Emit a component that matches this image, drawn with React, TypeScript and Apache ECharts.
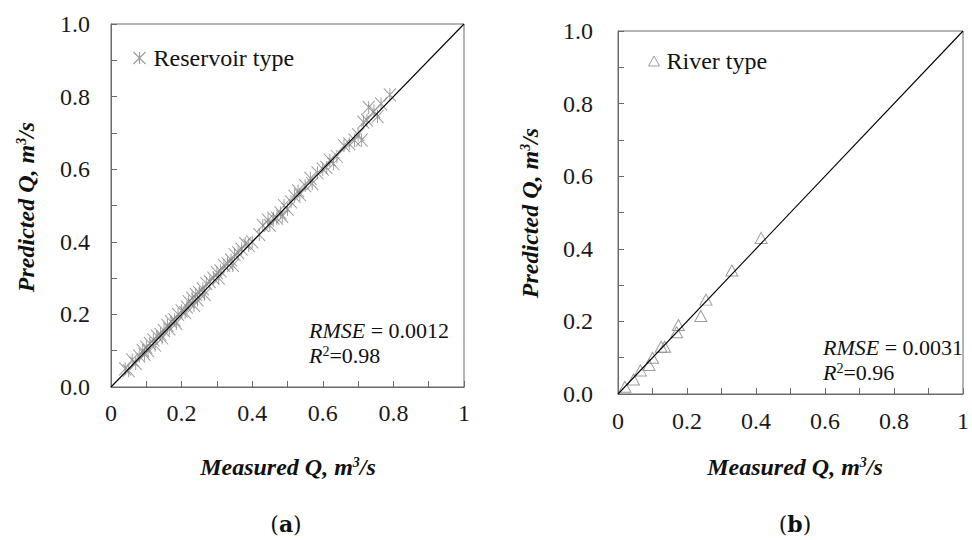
import React, { useEffect, useRef } from "react";
import * as echarts from "echarts";

// Reservoir type: measured vs predicted Q (m3/s)
const reservoirMeasured = [
  0.04, 0.05, 0.06, 0.07, 0.08, 0.09, 0.095, 0.1, 0.105, 0.11, 0.12, 0.125, 0.13, 0.14, 0.145, 0.15,
  0.16, 0.165, 0.17, 0.18, 0.185, 0.19, 0.2, 0.21, 0.215, 0.22, 0.23, 0.235, 0.24, 0.245, 0.25, 0.26,
  0.265, 0.27, 0.28, 0.29, 0.3, 0.305, 0.31, 0.32, 0.33, 0.34, 0.345, 0.35, 0.36, 0.37, 0.38, 0.39,
  0.4, 0.42, 0.43, 0.445, 0.45, 0.46, 0.47, 0.48, 0.485, 0.49, 0.5, 0.51, 0.52, 0.53, 0.535, 0.55,
  0.565, 0.57, 0.585, 0.6, 0.61, 0.62, 0.63, 0.64, 0.66, 0.675, 0.69, 0.7, 0.71, 0.715, 0.725, 0.73,
  0.745, 0.755, 0.765, 0.79,
];
const reservoirPredicted = [
  0.05, 0.045, 0.075, 0.065, 0.085, 0.1, 0.09, 0.11, 0.1, 0.12, 0.13, 0.115, 0.14, 0.145, 0.135, 0.155,
  0.17, 0.16, 0.18, 0.185, 0.175, 0.2, 0.21, 0.205, 0.22, 0.235, 0.245, 0.225, 0.255, 0.24, 0.26, 0.27,
  0.255, 0.285, 0.29, 0.3, 0.315, 0.3, 0.32, 0.335, 0.34, 0.35, 0.335, 0.365, 0.37, 0.38, 0.395, 0.39,
  0.4, 0.42, 0.445, 0.46, 0.445, 0.465, 0.465, 0.48, 0.47, 0.5, 0.49, 0.51, 0.525, 0.54, 0.53, 0.555,
  0.575, 0.56, 0.59, 0.6, 0.605, 0.625, 0.615, 0.635, 0.665, 0.67, 0.68, 0.695, 0.68, 0.73, 0.735, 0.77,
  0.76, 0.745, 0.78, 0.805,
];

// River type
const riverMeasured = [0.02, 0.045, 0.065, 0.09, 0.1, 0.125, 0.135, 0.17, 0.175, 0.24, 0.255, 0.33, 0.415];
const riverPredicted = [0.02, 0.04, 0.065, 0.08, 0.1, 0.13, 0.13, 0.17, 0.19, 0.215, 0.26, 0.34, 0.43];

const identityLine = [
  [0, 0],
  [1, 1],
];

const seriesNames = ["Reservoir type", "River type"];
const statsA = { rmse: "0.0012", r2: "0.98" };
const statsB = { rmse: "0.0031", r2: "0.96" };

const FONT = "'Liberation Serif', 'Times New Roman', serif";
const FRAME = "#6a6a6a";
const MARK = "#858585";
const STAR = "path://M0,0L10,10M0,10L10,0M5,0L5,10";

function xAxisCfg(gridIndex: number, margin: number) {
  return {
    type: "value",
    gridIndex,
    min: 0,
    max: 1,
    interval: 0.2,
    axisLine: { show: true, lineStyle: { color: FRAME, width: 1 } },
    axisTick: { show: true, inside: true, length: 6, lineStyle: { color: FRAME } },
    minorTick: { show: true, splitNumber: 2, length: 6, lineStyle: { color: FRAME } },
    splitLine: { show: false },
    axisLabel: {
      margin,
      fontFamily: FONT,
      fontSize: 24,
      color: "#1a1a1a",
      formatter: (v: number) => (v === 0 ? "0" : v === 1 ? "1" : v.toFixed(1)),
    },
  };
}

function yAxisCfg(gridIndex: number, margin: number) {
  return {
    type: "value",
    gridIndex,
    min: 0,
    max: 1,
    interval: 0.2,
    axisLine: { show: true, lineStyle: { color: FRAME, width: 1 } },
    axisTick: { show: true, inside: true, length: 6, lineStyle: { color: FRAME } },
    minorTick: { show: true, splitNumber: 2, length: 6, lineStyle: { color: FRAME } },
    splitLine: { show: false },
    axisLabel: {
      margin,
      fontFamily: FONT,
      fontSize: 24,
      color: "#1a1a1a",
      formatter: (v: number) => v.toFixed(1),
    },
  };
}

const nameRich = {
  b: { fontFamily: FONT, fontSize: 24, fontWeight: "bold", fontStyle: "italic", fill: "#111" },
  s: {
    fontFamily: FONT,
    fontSize: 14,
    fontWeight: "bold",
    fontStyle: "italic",
    fill: "#111",
    verticalAlign: "top",
  },
};

const statRich = {
  i: { fontFamily: FONT, fontSize: 22, fontStyle: "italic", fill: "#111" },
  n: { fontFamily: FONT, fontSize: 22, fill: "#111" },
  s: { fontFamily: FONT, fontSize: 14, fill: "#111", verticalAlign: "top" },
};

function axisNameText(x: number, y: number, rotate: boolean) {
  return {
    type: "text",
    x,
    y,
    rotation: rotate ? Math.PI / 2 : 0,
    style: {
      text: "{b|" + (rotate ? "Predicted" : "Measured") + " Q, m}{s|3}{b|/s}",
      rich: nameRich,
      align: "center",
      verticalAlign: "middle",
    },
  };
}

function statText(x: number, y: number, s: { rmse: string; r2: string }) {
  return [
    {
      type: "text",
      x,
      y,
      style: {
        text: "{i|RMSE}{n| = " + s.rmse + "}",
        rich: statRich,
        align: "left",
        verticalAlign: "middle",
      },
    },
    {
      type: "text",
      x,
      y: y + 25,
      style: {
        text: "{i|R}{s|2}{n|=" + s.r2 + "}",
        rich: statRich,
        align: "left",
        verticalAlign: "middle",
      },
    },
  ];
}

function panelLabel(x: number, y: number, letter: string) {
  return {
    type: "text",
    x,
    y,
    style: {
      text: "{n|(}{b|" + letter + "}{n|)}",
      rich: {
        n: { fontFamily: "'DejaVu Serif', serif", fontSize: 22, fill: "#111" },
        b: { fontFamily: "'DejaVu Serif', serif", fontSize: 22, fontWeight: "bold", fill: "#111" },
      },
      align: "center",
      verticalAlign: "middle",
    },
  };
}

export default function App() {
  const ref = useRef<HTMLDivElement>(null);

  useEffect(() => {
    if (!ref.current) return;
    const chart = echarts.init(ref.current, null, { renderer: "svg" });

    const resData = reservoirMeasured.map((x, i) => [x, reservoirPredicted[i]]);
    const rivData = riverMeasured.map((x, i) => [x, riverPredicted[i]]);

    const option: any = {
      animation: false,
      backgroundColor: "#ffffff",
      grid: [
        { left: 111, top: 24, width: 353, height: 363, show: true, borderColor: FRAME, borderWidth: 1 },
        { left: 618, top: 31, width: 352, height: 363, show: true, borderColor: FRAME, borderWidth: 1 },
      ],
      xAxis: [xAxisCfg(0, 14), xAxisCfg(1, 15)],
      yAxis: [yAxisCfg(0, 21), yAxisCfg(1, 25)],
      legend: [
        {
          data: [seriesNames[0]],
          left: 131,
          top: 46,
          padding: 0,
          itemWidth: 12,
          itemHeight: 12,
          icon: STAR,
          itemStyle: { color: "none", borderColor: MARK, borderWidth: 1.2 },
          textStyle: { fontFamily: FONT, fontSize: 24, color: "#111", padding: [0, 0, 0, 3] },
          selectedMode: false,
        },
        {
          data: [seriesNames[1]],
          left: 646,
          top: 49,
          padding: 0,
          itemWidth: 11,
          itemHeight: 10,
          icon: "triangle",
          itemStyle: { color: "none", borderColor: MARK, borderWidth: 1 },
          textStyle: { fontFamily: FONT, fontSize: 24, color: "#111", padding: [0, 0, 0, 2] },
          selectedMode: false,
        },
      ],
      series: [
        {
          type: "line",
          xAxisIndex: 0,
          yAxisIndex: 0,
          data: identityLine,
          symbol: "none",
          silent: true,
          lineStyle: { color: "#000", width: 1.1 },
          z: 3,
        },
        {
          type: "line",
          xAxisIndex: 1,
          yAxisIndex: 1,
          data: identityLine,
          symbol: "none",
          silent: true,
          lineStyle: { color: "#000", width: 1.1 },
          z: 3,
        },
        {
          name: seriesNames[0],
          type: "scatter",
          xAxisIndex: 0,
          yAxisIndex: 0,
          data: resData,
          symbol: STAR,
          symbolSize: [12, 13],
          itemStyle: { color: "none", borderColor: MARK, borderWidth: 1 },
          z: 2,
        },
        {
          name: seriesNames[1],
          type: "scatter",
          xAxisIndex: 1,
          yAxisIndex: 1,
          data: rivData,
          symbol: "triangle",
          symbolSize: [12, 11],
          itemStyle: { color: "none", borderColor: MARK, borderWidth: 1 },
          z: 2,
        },
      ],
      graphic: [
        axisNameText(26, 207, true),
        axisNameText(530, 213, true),
        axisNameText(288, 467, false),
        axisNameText(795, 467, false),
        ...statText(309, 330, statsA),
        ...statText(823, 347, statsB),
        panelLabel(286, 524, "a"),
        panelLabel(795, 524, "b"),
      ],
    };

    chart.setOption(option);
    return () => chart.dispose();
  }, []);

  return (
    <div
      ref={ref}
      style={{ position: "fixed", left: 0, top: 0, width: 972, height: 540, background: "#fff" }}
    />
  );
}
